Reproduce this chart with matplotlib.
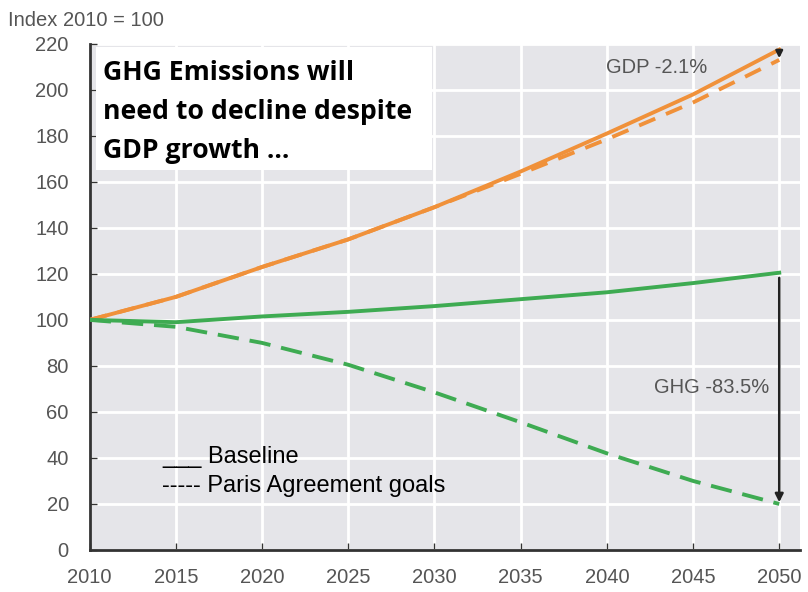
import matplotlib.pyplot as plt
from matplotlib.patches import Rectangle

# values (index 2010 = 100)
years = [2010, 2015, 2020, 2025, 2030, 2035, 2040, 2045, 2050]
gdp_baseline = [100, 110, 123, 135, 149, 164.5, 181, 198, 217.5]
gdp_paris = [100, 110, 123, 135, 149, 163.5, 178.5, 194.5, 213]
ghg_baseline = [100, 99, 101.5, 103.5, 106, 109, 112, 116, 120.5]
ghg_paris = [100, 97, 90, 80.5, 68.5, 55.5, 42, 30, 20]

xticks = [2010, 2015, 2020, 2025, 2030, 2035, 2040, 2045, 2050]
yticks = list(range(0, 221, 20))
title_lines = ['GHG Emissions will', 'need to decline despite', 'GDP growth ...']

orange = '#f0913a'
green = '#3eab52'
grey_txt = '#555555'
sans = 'Liberation Sans'

fig = plt.figure(figsize=(8.08, 5.92), dpi=100)
ax = fig.add_axes([0.111, 0.071, 0.879, 0.855])
ax.set_facecolor('#e5e5e9')

ax.plot(years, gdp_baseline, color=orange, lw=2.8, zorder=3)
ax.plot(years, gdp_paris, color=orange, lw=2.8, ls=(0, (4.5, 3)), zorder=3)
ax.plot(years, ghg_baseline, color=green, lw=2.8, zorder=3)
ax.plot(years, ghg_paris, color=green, lw=2.8, ls=(0, (5.5, 2.8)), zorder=3)

ax.set_xlim(2010, 2051.2)
ax.set_ylim(0, 220)
ax.set_xticks(xticks)
ax.set_yticks(yticks)
ax.grid(True, color='white', lw=2, zorder=0)
ax.set_axisbelow(True)

for s in ['top', 'right']:
    ax.spines[s].set_visible(False)
for s in ['left', 'bottom']:
    ax.spines[s].set_color('#333333')
    ax.spines[s].set_linewidth(2)
ax.tick_params(direction='in', length=5, width=1, color='#333333',
               labelcolor=grey_txt, labelsize=14.5)
ax.tick_params(axis='y', pad=15)
ax.tick_params(axis='x', pad=13)
for lab in ax.get_xticklabels() + ax.get_yticklabels():
    lab.set_family(sans)

# arrows at 2050
ax.annotate('', xy=(2050, gdp_paris[-1] - 0.5), xytext=(2050, gdp_baseline[-1] + 1),
            arrowprops=dict(arrowstyle='-|>', color='#222222', lw=1.8, mutation_scale=10),
            zorder=5)
ax.annotate('', xy=(2050, ghg_paris[-1] - 0.5), xytext=(2050, ghg_baseline[-1] - 1),
            arrowprops=dict(arrowstyle='-|>', color='#222222', lw=1.8, mutation_scale=12),
            zorder=5)
ax.text(2042.9, 209.5, 'GDP -2.1%', color=grey_txt, fontsize=14.5, family=sans,
        ha='center', va='center', zorder=4)
ax.text(2049.4, 70.4, 'GHG -83.5%', color=grey_txt, fontsize=14.5, family=sans,
        ha='right', va='center', zorder=4)

# y unit label
fig.text(0.01, 0.965, 'Index 2010 = 100', color=grey_txt, fontsize=14.5,
         family=sans, ha='left', va='center')

# white title box (pixel placement from the reference)
W, H = 808, 592
fig.patches.append(Rectangle((96 / W, 1 - 170 / H), (432 - 96) / W, (170 - 47) / H,
                             transform=fig.transFigure, fc='white', ec='none', zorder=6))
for i, line in enumerate(title_lines):
    fig.text(103 / W, 1 - (80 + 39 * i) / H, line, fontsize=19.2, fontweight='bold',
             family='Open Sans', color='black', ha='left', va='baseline', zorder=7)

# hand-made legend
ax.text(2014.2, 40.3, '___ Baseline', fontsize=17, family=sans,
        ha='left', va='center', zorder=6)
ax.text(2014.2, 27.6, '----- Paris Agreement goals', fontsize=17, family=sans,
        ha='left', va='center', zorder=6)

fig.savefig('out.png', dpi=100)
